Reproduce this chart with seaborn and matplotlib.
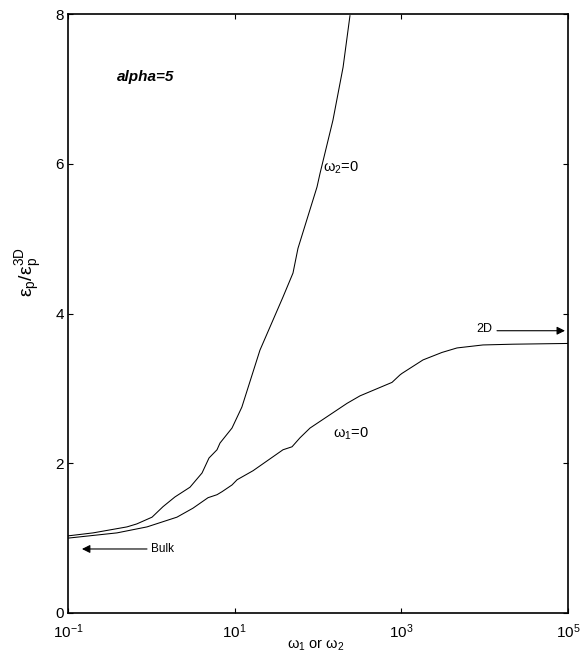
import numpy as np
import pandas as pd
import matplotlib
matplotlib.use("Agg")
import matplotlib.pyplot as plt
import seaborn as sns
from matplotlib.ticker import LogFormatterSciNotation, NullLocator

# omega_2 = 0 branch (rises steeply)
omega_a = [0.1, 0.2, 0.51, 0.67, 1.02, 1.38, 1.92, 2.91, 4.06, 4.92, 6.14, 6.67,
           9.29, 12.2, 20.1, 38.0, 50.1, 57.5, 97.3, 105.7, 151, 200, 242]
ratio_a = [1.03, 1.07, 1.15, 1.19, 1.28, 1.42, 1.55, 1.68, 1.87, 2.07, 2.18, 2.27,
           2.47, 2.75, 3.51, 4.22, 4.54, 4.87, 5.69, 5.87, 6.58, 7.29, 7.98]

# omega_1 = 0 branch (saturates at the 2D limit)
omega_b = [0.1, 0.387, 0.887, 2.03, 3.16, 4.79, 6.14, 7.05, 9.29, 10.7, 16.6, 38.0,
           48.8, 60.8, 80.2, 223, 319, 773, 964, 1018, 1820, 3076, 4656, 9550,
           21900, 100000]
ratio_b = [1.00, 1.07, 1.15, 1.28, 1.40, 1.54, 1.58, 1.62, 1.71, 1.78, 1.90, 2.18,
           2.22, 2.34, 2.47, 2.80, 2.90, 3.08, 3.18, 3.20, 3.38, 3.48, 3.54, 3.58,
           3.59, 3.60]

x_ticks = [1e-1, 1e1, 1e3, 1e5]
y_ticks = [0, 2, 4, 6, 8]

sns.set_theme(style="ticks")
plt.rcParams["font.family"] = ["Liberation Sans", "DejaVu Sans"]
plt.rcParams["text.color"] = "black"
plt.rcParams["mathtext.fontset"] = "custom"
plt.rcParams["mathtext.rm"] = "Liberation Sans"
plt.rcParams["mathtext.it"] = "Liberation Sans:italic"
plt.rcParams["mathtext.bf"] = "Liberation Sans:bold"

fig = plt.figure(figsize=(5.8, 6.59), dpi=100)
ax = fig.add_axes([68 / 580, 1 - 613 / 659, 500 / 580, 599 / 659])

df_a = pd.DataFrame({"omega": omega_a, "ratio": ratio_a})
df_b = pd.DataFrame({"omega": omega_b, "ratio": ratio_b})
sns.lineplot(data=df_a, x="omega", y="ratio", ax=ax, color="black", lw=0.75,
             sort=False, estimator=None)
sns.lineplot(data=df_b, x="omega", y="ratio", ax=ax, color="black", lw=0.75,
             sort=False, estimator=None)

ax.set_xscale("log")
ax.set_xlim(0.1, 1e5)
ax.set_ylim(0, 8)
ax.set_xticks(x_ticks)
ax.xaxis.set_major_formatter(LogFormatterSciNotation(base=10))
ax.xaxis.set_minor_locator(NullLocator())
ax.set_yticks(y_ticks)
ax.tick_params(direction="in", length=3.6, width=0.8, top=True, right=True,
               labelsize=11, colors="black")
ax.tick_params(axis="x", pad=7)
ax.tick_params(axis="y", pad=3)
for s in ax.spines.values():
    s.set_linewidth(1.2)
    s.set_color("black")
ax.set_xlabel("")
ax.set_ylabel("")

fig.text(29 / 580, 1 - 272 / 659,
         r"$\mathrm{\varepsilon_p/\varepsilon_p^{3D}}$", rotation=90,
         ha="center", va="center", fontsize=14)
fig.text(316 / 580, 1 - 645 / 659, r"$\mathrm{\omega_1}$ or $\mathrm{\omega_2}$",
         ha="center", va="center", fontsize=10.5)

ax.text(0.387, 7.16, "alpha=5", fontsize=11, fontweight="bold", style="italic",
        ha="left", va="center")
ax.text(115, 5.94, r"$\mathrm{\omega_2}$=0", fontsize=10.5, ha="left", va="center")
ax.text(151, 2.40, r"$\mathrm{\omega_1}$=0", fontsize=10.5, ha="left", va="center")

ax.annotate("", xy=(92000, 3.77), xytext=(14060, 3.77),
            arrowprops=dict(arrowstyle="-|>", color="black", lw=0.8,
                            mutation_scale=12, shrinkA=0, shrinkB=0))
ax.text(12250, 3.79, "2D", fontsize=9, ha="right", va="center")

ax.annotate("", xy=(0.147, 0.855), xytext=(0.887, 0.855),
            arrowprops=dict(arrowstyle="-|>", color="black", lw=0.8,
                            mutation_scale=12, shrinkA=0, shrinkB=0))
ax.text(0.99, 0.855, "Bulk", fontsize=8.5, ha="left", va="center")

fig.savefig("out.png", dpi=100)
